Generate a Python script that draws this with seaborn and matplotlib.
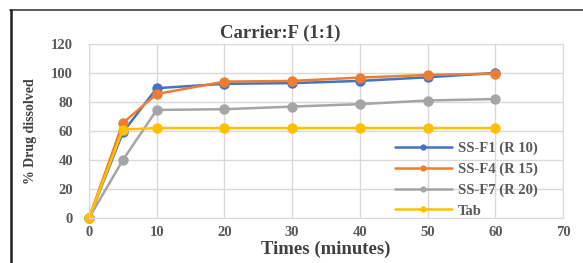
import numpy as np
import pandas as pd
import seaborn as sns
import matplotlib
matplotlib.use("Agg")
import matplotlib.pyplot as plt
from matplotlib.lines import Line2D

time = [0, 5, 10, 20, 30, 40, 50, 60]
ss_f1 = [0, 59, 89.5, 92.5, 93, 94.5, 97, 100]
ss_f4 = [0, 65.5, 85.5, 94, 94.5, 96.8, 98.6, 99.5]
ss_f7 = [0, 40, 74.5, 75, 76.8, 78.5, 81, 82]
tab = [0, 61, 62, 62, 62, 62, 62, 62]
series_names = ["SS-F1 (R 10)", "SS-F4 (R 15)", "SS-F7 (R 20)", "Tab"]
colors = ["#4472C4", "#ED7D31", "#A5A5A5", "#FFC000"]

rows = []
for name, vals in zip(series_names, [ss_f1, ss_f4, ss_f7, tab]):
    for t, v in zip(time, vals):
        rows.append({"Time": t, "Value": v, "Series": name})
df = pd.DataFrame(rows)

sns.set_theme(style="whitegrid")
plt.rcParams['font.family'] = ['Liberation Serif', 'DejaVu Serif']

fig = plt.figure(figsize=(5.83, 2.63), dpi=100)
ax = fig.add_axes([0.1527, 0.171, 0.8130, 0.662])

sns.lineplot(data=df, x="Time", y="Value", hue="Series", palette=colors,
             marker="o", markersize=7.5, markeredgewidth=0, linewidth=1.8,
             ax=ax, hue_order=series_names)
for ln in ax.get_lines():
    ln.set_clip_on(False)

ax.set_xlim(0, 70)
ax.set_ylim(0, 120)
ax.set_xticks(np.arange(0, 71, 10))
ax.set_yticks(np.arange(0, 121, 20))
ax.grid(True, color="#D9D9D9", linewidth=1)
for s in ax.spines.values():
    s.set_visible(True)
    s.set_color("#D9D9D9")
    s.set_linewidth(0.8)
ax.tick_params(axis="x", length=0, pad=6, labelsize=10.5, labelcolor="#595959")
ax.tick_params(axis="y", length=0, pad=11.5, labelsize=10.5, labelcolor="#595959")
for lab in ax.get_xticklabels() + ax.get_yticklabels():
    lab.set_fontweight("bold")

ax.set_xlabel("Times (minutes)", fontsize=13.5, fontweight="bold", color="#404040", labelpad=1)
ax.set_ylabel("% Drug dissolved", fontsize=10, fontweight="bold", color="#404040", labelpad=10)
ax.set_title("Carrier:F (1:1)", fontsize=13.5, fontweight="bold", color="#404040",
             x=(280 - 89) / 474, pad=4)

leg = ax.legend(loc="upper left", bbox_to_anchor=((395 - 89) / 474, (218 - 142) / 174),
                frameon=False, fontsize=10.5, handlelength=3.9, markerscale=0.6,
                labelspacing=0.5, borderaxespad=0, borderpad=0, handletextpad=0.4)
for t in leg.get_texts():
    t.set_color("#595959")
    t.set_fontweight("bold")

# outer frame (top and left)
fig.add_artist(Line2D([10/583, 1.0], [1-10/263, 1-10/263], transform=fig.transFigure,
                      color="#404040", linewidth=1.2))
fig.add_artist(Line2D([11/583, 11/583], [0, 1-10/263], transform=fig.transFigure,
                      color="#202020", linewidth=1.8))

fig.savefig("out.png", dpi=100)
